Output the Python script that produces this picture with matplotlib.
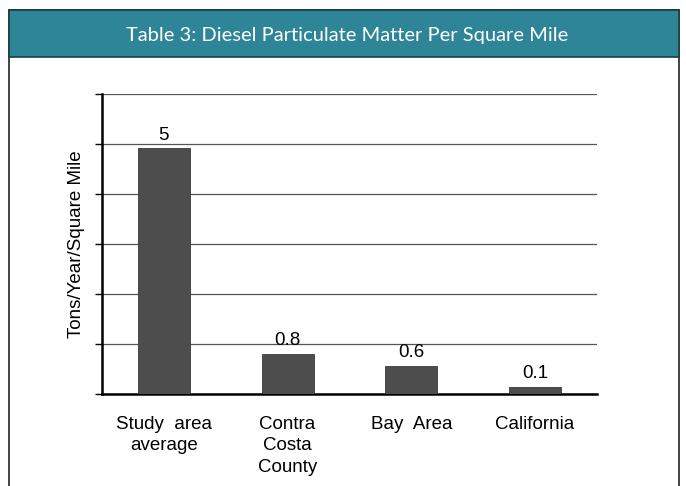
import matplotlib
matplotlib.use("Agg")
import matplotlib.pyplot as plt
from matplotlib.patches import Rectangle

categories = ["Study  area\naverage", "Contra\nCosta\nCounty", "Bay  Area", "California"]
values = [4.92, 0.81, 0.57, 0.15]
value_labels = ["5", "0.8", "0.6", "0.1"]
y_ticks = [0, 1, 2, 3, 4, 5, 6]
title = "Table 3: Diesel Particulate Matter Per Square Mile"
ylabel = "Tons/Year/Square Mile"

W, H = 686, 486
fig = plt.figure(figsize=(W / 100, H / 100), dpi=100)
fig.patch.set_facecolor("white")

def fx(px):
    return px / W

def fy(py):
    return 1 - py / H

# frame and header
fig.add_artist(Rectangle((fx(9), fy(490)), fx(679) - fx(9), fy(10) - fy(490),
                         transform=fig.transFigure, facecolor="white",
                         edgecolor="#222222", lw=1.2, zorder=0))
fig.add_artist(Rectangle((fx(9), fy(57)), fx(679) - fx(9), fy(10) - fy(57),
                         transform=fig.transFigure, facecolor="#2E8597",
                         edgecolor="#1d3d45", lw=1.2, zorder=1))
fig.text(fx(347), fy(35), title, color="white", ha="center", va="center",
         fontsize=14.5, family="Lato", zorder=2)

ax = fig.add_axes([fx(102), fy(394), fx(597) - fx(102), fy(94) - fy(394)])
x = list(range(len(categories)))
ax.bar(x, values, width=0.42, color="#4d4d4d", edgecolor="#3a3a3a", lw=0.6, zorder=3)
ax.set_xlim(-0.5, 3.5)
ax.set_ylim(0, 6)
ax.set_yticks(y_ticks)
ax.set_yticklabels([])
ax.yaxis.grid(True, color="#555555", lw=0.9, zorder=0)
ax.set_axisbelow(True)
for s in ["top", "right"]:
    ax.spines[s].set_visible(False)
ax.spines["left"].set_linewidth(1.8)
ax.spines["bottom"].set_linewidth(1.8)
ax.tick_params(axis="y", length=5, width=1, direction="out")
ax.tick_params(axis="x", length=0, pad=16)
ax.set_xticks(x)
ax.set_xticklabels(categories, fontsize=13.5, family="Liberation Sans", linespacing=1.32, va="top")
ax.set_ylabel(ylabel, fontsize=13.5, family="Liberation Sans", labelpad=4)
for xi, v, lab in zip(x, values, value_labels):
    ax.annotate(lab, (xi, v), xytext=(0, 3), textcoords="offset points",
                ha="center", va="bottom", fontsize=13.5, family="Liberation Sans")

fig.savefig("out.png", dpi=100)
